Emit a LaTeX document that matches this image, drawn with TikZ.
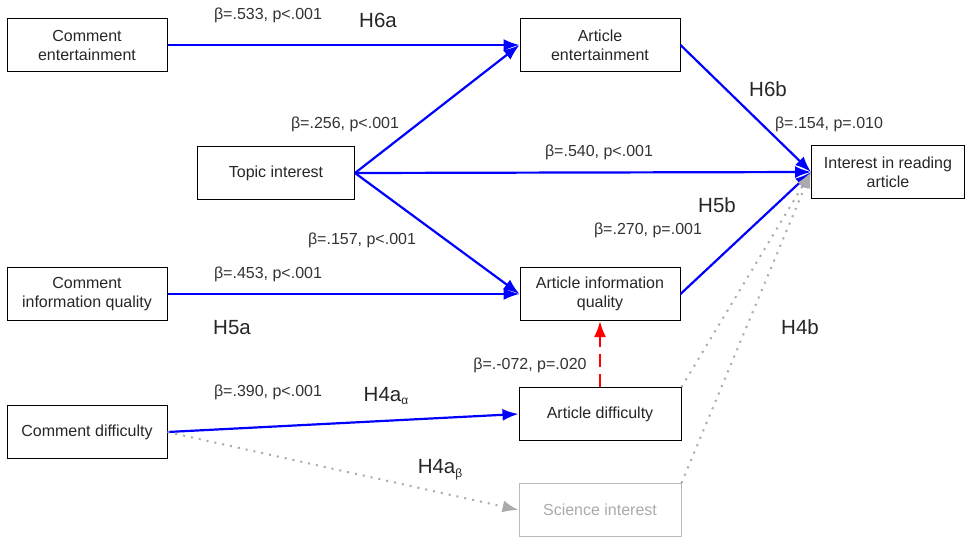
\documentclass[tikz,border=0pt]{standalone}
\usepackage{fontspec}
\setmainfont{Liberation Sans}
\usetikzlibrary{arrows.meta}
\definecolor{labgray}{HTML}{333333}
\definecolor{faded}{HTML}{AAAAAA}

\begin{document}
\begin{tikzpicture}[x=1pt,y=-1pt]
\tikzset{var/.style={draw,line width=1pt,minimum width=160pt,minimum height=53pt,align=center,font=\fontsize{16}{19}\selectfont,text=black!85}}
\tikzset{path/.style={blue,line width=2.2pt,-{Latex[length=16pt,width=12pt]}}}
\tikzset{weak/.style={faded,line width=2pt,dash pattern=on 2pt off 6pt,-{Latex[length=16pt,width=12pt]}}}
\tikzset{coef/.style={text=labgray,font=\fontsize{16}{18}\selectfont}}
\tikzset{hyp/.style={text=black!85,font=\fontsize{20.5}{22}\selectfont}}
\newcommand{\lowsub}[1]{\raisebox{-0.35ex}{\fontsize{12}{12}\selectfont #1}}

\useasboundingbox (0,0) rectangle (969,536);

% variables
\node[var] (CE) at (87,45) {Comment\\entertainment};
\node[var] (AE) at (600,45) {Article\\entertainment};
\node[var,minimum width=157pt] (TI) at (276,173) {Topic interest};
\node[var,minimum width=153pt] (IR) at (888,172) {Interest in reading\\article};
\node[var] (CIQ) at (87,294) {Comment\\information quality};
\node[var] (AIQ) at (600,294) {Article information\\quality};
\node[var] (CD) at (87,432) {Comment difficulty};
\node[var,minimum width=162pt] (AD) at (600,414) {Article difficulty};
\node[var,minimum width=162pt,draw=faded!80,text=faded] (SI) at (600,510) {Science interest};

% paths
\draw[path] (CE.east) -- (AE.west);
\draw[path] (TI.east) -- (AE.west);
\draw[path] (TI.east) -- (IR.west);
\draw[path] (TI.east) -- (AIQ.west);
\draw[path] (CIQ.east) -- (AIQ.west);
\draw[path] (AE.east) -- (IR.west);
\draw[path] (AIQ.east) -- (IR.west);
\draw[path] (CD.east) -- (AD.west);
\draw[red,line width=2.2pt,dash pattern=on 13pt off 7pt,-{Latex[length=16pt,width=12pt]}] (AD.north) -- (AIQ.south);
\draw[weak] (CD.east) -- (SI.west);
\draw[weak] (AD.north east) -- (IR.west);
\draw[weak] (SI.north east) -- (IR.west);

% labels
\node[coef] (l1) at (268,15) {β=.533, p<.001};
\node[hyp] (h6a) at (378,20) {H6a};
\node[coef] (l2) at (345,124) {β=.256, p<.001};
\node[coef] (l3) at (599,152) {β=.540, p<.001};
\node[hyp] (h6b) at (768,89) {H6b};
\node[coef] (l4) at (829,124) {β=.154, p=.010};
\node[hyp] (h5b) at (717,205) {H5b};
\node[coef] (l5) at (648,230) {β=.270, p=.001};
\node[coef] (l6) at (362,240) {β=.157, p<.001};
\node[coef] (l7) at (268,274) {β=.453, p<.001};
\node[hyp] (h5a) at (232,328) {H5a};
\node[hyp] (h4b) at (800,327) {H4b};
\node[coef] (l8) at (530,365) {β=.-072, p=.020};
\node[coef] (l9) at (268,392) {β=.390, p<.001};
\node[hyp] (h4aa) at (386,396) {H4a\lowsub{α}};
\node[hyp] (h4ab) at (440,470) {H4a\lowsub{β}};

\end{tikzpicture}
\end{document}
